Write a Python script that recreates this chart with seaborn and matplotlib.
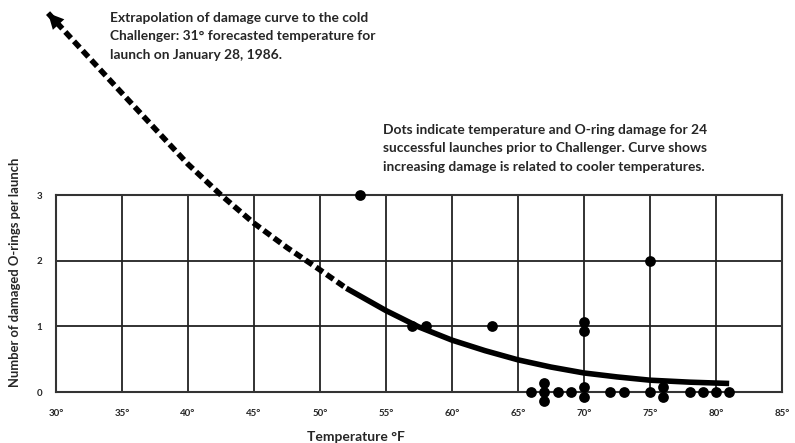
import numpy as np
import pandas as pd
import matplotlib
matplotlib.use("Agg")
import matplotlib.pyplot as plt
import seaborn as sns

# launches with O-ring damage
hit_temps = [53, 57, 58, 63, 70, 70, 75]
hit_damage = [3, 1, 1, 1, 1, 1, 2]
# launches with no damage
zero_temps = [66, 67, 67, 67, 68, 69, 70, 70, 72, 73, 75, 76, 76, 78, 79, 80, 81]

# damage curve (extrapolated part + fitted part)
curve_temps = [29.4, 31, 35, 40, 42.5, 45, 47.5, 50, 52, 55, 57.5, 60, 62.5, 65, 67.5, 70, 72.5, 75, 78, 81]
curve_vals = [5.77, 5.42, 4.55, 3.47, 3.0, 2.57, 2.2, 1.86, 1.58, 1.24, 0.99, 0.79, 0.63, 0.49, 0.38, 0.29, 0.23, 0.18, 0.15, 0.13]
fit_start = 52

x_ticks = [30, 35, 40, 45, 50, 55, 60, 65, 70, 75, 80, 85]
y_ticks = [0, 1, 2, 3]

note_top = ("Extrapolation of damage curve to the cold\n"
            "Challenger: 31° forecasted temperature for\n"
            "launch on January 28, 1986.")
note_right = ("Dots indicate temperature and O-ring damage for 24\n"
              "successful launches prior to Challenger. Curve shows\n"
              "increasing damage is related to cooler temperatures.")

sns.set_style("white")
plt.rcParams['font.family'] = ['Lato', 'DejaVu Sans']

pts = pd.DataFrame({"temp": hit_temps + zero_temps,
                    "damage": hit_damage + [0] * len(zero_temps)})
# stack repeated dots vertically
pts["n"] = pts.groupby(["temp", "damage"])["temp"].transform("size")
pts["i"] = pts.groupby(["temp", "damage"]).cumcount()
pts["y"] = pts["damage"] + (pts["i"] - (pts["n"] - 1) / 2) * 0.14

curve = pd.DataFrame({"temp": curve_temps, "val": curve_vals})
extrap = curve[curve.temp <= fit_start]
fitted = curve[curve.temp >= fit_start]

fig = plt.figure(figsize=(7.95, 4.43), dpi=100)
ax = fig.add_axes([0.0704, 0.1151, 0.9132, 0.4447])

sns.lineplot(data=fitted, x="temp", y="val", ax=ax, color="black", lw=4,
             estimator=None, sort=False, solid_capstyle="butt",
             solid_joinstyle="round", clip_on=False, zorder=3)
sns.lineplot(data=extrap, x="temp", y="val", ax=ax, color="black", lw=4,
             estimator=None, sort=False, linestyle=(0, (1.5, 0.8)),
             dash_capstyle="butt", clip_on=False, zorder=3)
ax.annotate("", xy=(curve_temps[0], curve_vals[0]),
            xytext=(curve_temps[1], curve_vals[1]),
            arrowprops=dict(arrowstyle="-|>", color="black", lw=0,
                            mutation_scale=28, shrinkA=0, shrinkB=0),
            annotation_clip=False)

sns.scatterplot(data=pts, x="temp", y="y", ax=ax, color="black", s=60,
                edgecolor="black", linewidth=0, clip_on=False, zorder=4)

ax.set_xlim(30, 85)
ax.set_ylim(0, 3)
ax.set_xticks(x_ticks)
ax.set_xticklabels([f"{t}°" for t in x_ticks])
ax.set_yticks(y_ticks)
ax.set_yticklabels([str(v) for v in y_ticks])
ax.tick_params(length=0, labelsize=7)
ax.tick_params(axis="x", pad=12)
ax.tick_params(axis="y", pad=10)
for lab in ax.get_xticklabels() + ax.get_yticklabels():
    lab.set_fontweight("bold")
ax.grid(True, color="#222222", lw=1.3)
for s in ax.spines.values():
    s.set_color("#333333")
    s.set_linewidth(1.5)
ax.set_xlabel("")
ax.set_ylabel("")

fig.text(356 / 795, 1 - 437 / 443, "Temperature °F", ha="center", va="center",
         fontsize=10, fontweight="bold")
fig.text(15 / 795, 1 - 272 / 443, "Number of damaged O-rings per launch",
         ha="center", va="center", rotation=90, fontsize=9.4, fontweight="bold")
fig.text(110 / 795, 1 - 12 / 443, note_top, ha="left", va="top",
         fontsize=9.9, fontweight="bold", linespacing=1.65)
fig.text(383 / 795, 1 - 124 / 443, note_right, ha="left", va="top",
         fontsize=9.9, fontweight="bold", linespacing=1.65)

fig.savefig("out.png", dpi=100)
